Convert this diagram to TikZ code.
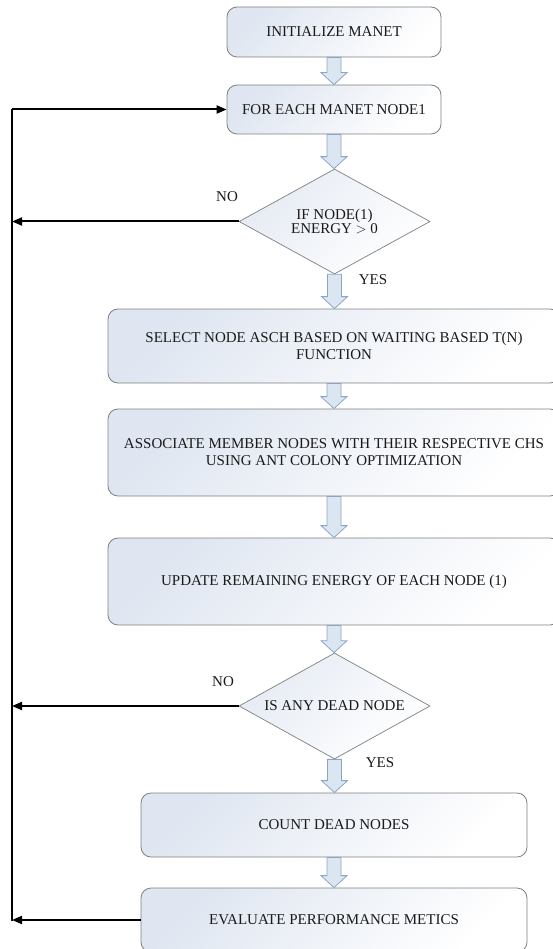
\documentclass[tikz,border=0pt]{standalone}
\usepackage{fontspec}
\setmainfont{Liberation Serif}
\usetikzlibrary{shapes.geometric,arrows.meta,calc}
\definecolor{boxline}{HTML}{7F7F7F}
\definecolor{boxtint}{HTML}{DFE6F1}
\definecolor{arrfill}{HTML}{DCE6F3}
\definecolor{arrline}{HTML}{8CA5C3}
\definecolor{txt}{HTML}{1A1A1A}
\newcommand{\blockarr}[2]{%
  \path let \p1=(#1.south), \p2=(#2.north) in
    [draw=arrline, fill=arrfill, line width=0.8pt, line join=miter]
    (\x1-7,\y1) -- (\x1+7,\y1) -- (\x1+7,\y2+12) -- (\x1+13,\y2+12) --
    (\x1,\y2) -- (\x1-13,\y2+12) -- (\x1-7,\y2+12) -- cycle;}
\tikzset{
  procbox/.style={rectangle, rounded corners=10pt, draw=boxline, line width=0.8pt,
    top color=boxtint, bottom color=white, shading angle=45,
    align=center, inner sep=0pt, text=txt,
    font=\fontsize{15}{17}\selectfont},
  decbox/.style={diamond, aspect=1.8, draw=boxline, line width=0.7pt,
    top color=boxtint!80, bottom color=white, shading angle=45,
    align=center, inner sep=0pt, text=txt,
    minimum width=191pt, minimum height=105pt,
    font=\fontsize{15}{14}\selectfont},
  lbl/.style={text=txt, font=\fontsize{15}{17}\selectfont, inner sep=0pt},
  fb/.style={line width=2pt, black},
  fbarrow/.style={fb, -{Triangle[length=10pt,width=8pt]}}
}
\begin{document}
\begin{tikzpicture}[x=1pt,y=-1pt]
\useasboundingbox (0,0) rectangle (552,949);
\node[procbox, minimum width=214pt, minimum height=50pt] (b1) at (334,32) {INITIALIZE MANET};
\node[procbox, minimum width=214pt, minimum height=49pt] (b2) at (334,109.5) {FOR EACH MANET NODE1};
\node[decbox] (d1) at (334.5,221.5) {IF NODE(1)\\ENERGY $>$ 0};
\node[procbox, minimum width=452pt, minimum height=74pt] (b3) at (334,346) {SELECT NODE ASCH BASED ON WAITING BASED T(N)\\FUNCTION};
\node[procbox, minimum width=452pt, minimum height=87pt] (b4) at (334,452.5) {ASSOCIATE MEMBER NODES WITH THEIR RESPECTIVE CHS\\USING ANT COLONY OPTIMIZATION};
\node[procbox, minimum width=452pt, minimum height=87pt] (b5) at (334,581.5) {UPDATE REMAINING ENERGY OF EACH NODE (1)};
\node[decbox, minimum height=106pt] (d2) at (334.5,706) {IS ANY DEAD NODE};
\node[procbox, minimum width=386pt, minimum height=64pt] (b6) at (334,825) {COUNT DEAD NODES};
\node[procbox, minimum width=386pt, minimum height=64pt] (b7) at (334,920) {EVALUATE PERFORMANCE METICS};

\node[lbl] (no1) at (227,197) {NO};
\node[lbl] (yes1) at (373,280) {YES};
\node[lbl] (no2) at (223,682) {NO};
\node[lbl] (yes2) at (380,763) {YES};

\blockarr{b1}{b2}
\blockarr{b2}{d1}
\blockarr{d1}{b3}
\blockarr{b3}{b4}
\blockarr{b4}{b5}
\blockarr{b5}{d2}
\blockarr{d2}{b6}
\blockarr{b6}{b7}

\coordinate (ltop) at (12,109.5);
\coordinate (lbot) at (12,921);
\draw[fb] (lbot) -- (ltop);
\draw[fbarrow] (ltop) -- (b2.west);
\draw[fbarrow] (d1.west) -- (d1.west -| ltop);
\draw[fbarrow] (d2.west) -- (d2.west -| ltop);
\draw[fbarrow] (b7.west) -- (b7.west -| ltop);
\end{tikzpicture}
\end{document}
